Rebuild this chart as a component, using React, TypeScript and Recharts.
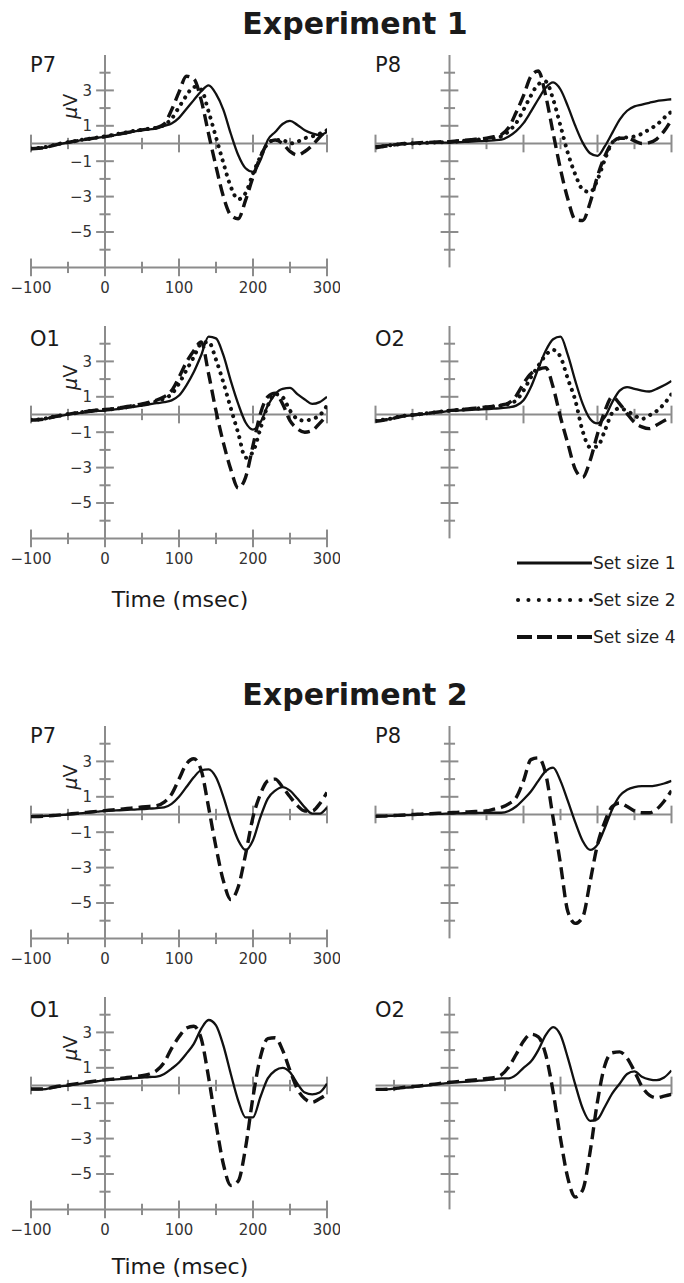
import React from 'react';
import { Line, LineChart, ReferenceLine, XAxis, YAxis } from 'recharts';

const FONT = '"DejaVu Sans", Verdana, sans-serif';
const INK = '#111111';
const AXIS_GRAY = '#8c8c8c';
const LABEL_INK = '#333333';

// time base, msec
const TIME_MS = [
  -100, -90, -80, -70, -60, -50, -40, -30, -20, -10, 0, 10, 20, 30, 40, 50, 60, 70, 80, 90, 100,
  110, 120, 130, 140, 150, 160, 170, 180, 190, 200, 210, 220, 230, 240, 250, 260, 270, 280, 290, 300,
];

// Experiment 1, µV (set size 1 / 2 / 4)
const E1_P7_SS1 = [-0.3, -0.28, -0.22, -0.12, -0.02, 0.05, 0.12, 0.2, 0.26, 0.32, 0.38, 0.45, 0.52, 0.6, 0.68, 0.75, 0.8, 0.85, 1.0, 1.13, 1.45, 1.95, 2.45, 2.95, 3.28, 2.8, 1.9, 0.55, -0.65, -1.4, -1.6, -0.95, 0.2, 0.65, 1.1, 1.28, 1.05, 0.75, 0.57, 0.47, 0.65];
const E1_P7_SS2 = [-0.28, -0.26, -0.2, -0.1, 0.0, 0.07, 0.14, 0.22, 0.28, 0.34, 0.4, 0.48, 0.56, 0.64, 0.72, 0.78, 0.84, 0.9, 1.05, 1.4, 2.05, 2.7, 3.2, 3.05, 1.8, 0.35, -1.1, -2.45, -3.15, -2.8, -1.7, -0.75, 0.0, 0.2, 0.2, 0.0, 0.1, 0.3, 0.4, 0.55, 0.75];
const E1_P7_SS4 = [-0.3, -0.27, -0.21, -0.11, -0.01, 0.06, 0.13, 0.21, 0.27, 0.33, 0.39, 0.46, 0.54, 0.62, 0.7, 0.77, 0.83, 0.9, 1.1, 1.9, 2.9, 3.8, 3.65, 2.45, 0.55, -1.3, -3.0, -4.05, -4.25, -3.2, -1.9, -0.75, 0.0, 0.2, 0.0, -0.45, -0.65, -0.45, -0.1, 0.35, 0.75];

const E1_P8_SS1 = [-0.15, -0.12, -0.08, -0.05, -0.02, 0.0, 0.02, 0.03, 0.04, 0.05, 0.05, 0.07, 0.09, 0.11, 0.13, 0.15, 0.18, 0.22, 0.4, 0.7, 1.15, 1.8, 2.5, 3.15, 3.45, 3.05, 2.1, 1.0, 0.05, -0.55, -0.7, -0.15, 0.6, 1.35, 1.85, 2.1, 2.2, 2.3, 2.4, 2.45, 2.5];
const E1_P8_SS2 = [-0.2, -0.15, -0.1, -0.06, -0.02, 0.0, 0.02, 0.04, 0.06, 0.07, 0.08, 0.12, 0.15, 0.2, 0.22, 0.25, 0.3, 0.4, 0.7, 1.15, 1.9, 2.7, 3.35, 3.5, 2.5, 1.0, -0.55, -1.75, -2.6, -2.75, -2.05, -0.9, 0.05, 0.3, 0.35, 0.4, 0.55, 0.8, 1.05, 1.45, 1.8];
const E1_P8_SS4 = [-0.25, -0.18, -0.12, -0.05, 0.0, 0.02, 0.05, 0.06, 0.08, 0.1, 0.1, 0.14, 0.18, 0.22, 0.26, 0.3, 0.38, 0.5, 0.9, 1.75, 2.7, 3.8, 4.1, 2.7, 0.6, -1.45, -3.15, -4.3, -4.35, -3.35, -1.85, -0.7, 0.05, 0.3, 0.3, 0.15, 0.0, 0.05, 0.25, 0.7, 1.35];

const E1_O1_SS1 = [-0.3, -0.3, -0.25, -0.15, -0.08, 0.0, 0.05, 0.1, 0.15, 0.2, 0.22, 0.27, 0.32, 0.38, 0.44, 0.5, 0.57, 0.64, 0.7, 0.8, 1.07, 1.65, 2.4, 3.35, 4.4, 4.3, 3.35, 1.9, 0.6, -0.45, -0.85, -0.45, 0.5, 1.15, 1.45, 1.5, 1.15, 0.85, 0.6, 0.7, 1.0];
const E1_O1_SS2 = [-0.3, -0.28, -0.22, -0.12, -0.05, 0.02, 0.08, 0.14, 0.2, 0.24, 0.26, 0.3, 0.36, 0.42, 0.48, 0.55, 0.65, 0.75, 0.9, 1.15, 1.75, 2.5, 3.25, 4.0, 4.1, 3.1, 1.8, 0.35, -1.05, -2.45, -2.1, -0.8, 0.5, 1.15, 0.98, 0.22, -0.25, -0.35, -0.25, -0.05, 0.5];
const E1_O1_SS4 = [-0.32, -0.3, -0.24, -0.14, -0.06, 0.02, 0.08, 0.14, 0.2, 0.25, 0.28, 0.32, 0.38, 0.45, 0.52, 0.6, 0.7, 0.82, 1.0, 1.35, 2.1, 2.95, 3.6, 4.1, 2.3, 0.2, -1.6, -3.1, -4.15, -3.55, -1.75, 0.05, 1.0, 1.2, 0.6, -0.35, -0.8, -1.0, -0.9, -0.5, -0.05];

const E1_O2_SS1 = [-0.35, -0.32, -0.25, -0.15, -0.08, -0.05, 0.0, 0.05, 0.1, 0.15, 0.2, 0.22, 0.24, 0.26, 0.28, 0.3, 0.33, 0.36, 0.4, 0.5, 0.8, 1.55, 2.6, 3.6, 4.25, 4.4, 3.35, 1.9, 0.6, -0.25, -0.5, -0.15, 0.7, 1.35, 1.55, 1.45, 1.35, 1.3, 1.45, 1.65, 1.9];
const E1_O2_SS2 = [-0.35, -0.3, -0.24, -0.14, -0.07, -0.03, 0.02, 0.07, 0.12, 0.17, 0.22, 0.25, 0.28, 0.31, 0.35, 0.4, 0.45, 0.5, 0.6, 0.8, 1.35, 2.1, 2.75, 3.35, 3.65, 3.25, 2.0, 0.8, -0.95, -1.85, -1.8, -0.9, 0.1, 0.35, 0.2, -0.05, -0.25, -0.05, 0.2, 0.6, 1.15];
const E1_O2_SS4 = [-0.38, -0.33, -0.26, -0.16, -0.08, -0.03, 0.02, 0.07, 0.12, 0.17, 0.22, 0.26, 0.3, 0.34, 0.38, 0.42, 0.47, 0.53, 0.65, 1.05, 1.75, 2.3, 2.55, 2.65, 1.55, -0.15, -1.65, -3.1, -3.55, -2.6, -1.1, 0.2, 1.0, 0.6, 0.05, -0.45, -0.7, -0.8, -0.6, -0.35, -0.15];

// Experiment 2, µV (set size 1 / 4)
const E2_P7_SS1 = [-0.1, -0.1, -0.08, -0.06, -0.03, 0.0, 0.04, 0.08, 0.12, 0.16, 0.2, 0.22, 0.24, 0.26, 0.28, 0.3, 0.33, 0.36, 0.4, 0.6, 1.0, 1.55, 2.1, 2.5, 2.55, 2.1, 1.0, -0.35, -1.45, -2.0, -1.45, -0.15, 0.9, 1.35, 1.55, 1.35, 0.9, 0.4, 0.05, 0.05, 0.4];
const E2_P7_SS4 = [-0.12, -0.11, -0.09, -0.06, -0.02, 0.02, 0.06, 0.1, 0.14, 0.18, 0.22, 0.26, 0.3, 0.34, 0.38, 0.42, 0.46, 0.5, 0.7, 1.15, 2.0, 2.85, 3.15, 2.5, 0.4, -1.85, -3.75, -4.8, -4.1, -2.25, -0.15, 1.15, 1.9, 2.0, 1.55, 1.0, 0.5, 0.2, 0.2, 0.6, 1.25];

const E2_P8_SS1 = [-0.1, -0.09, -0.08, -0.06, -0.04, -0.02, 0.0, 0.02, 0.03, 0.04, 0.05, 0.06, 0.07, 0.08, 0.09, 0.1, 0.1, 0.1, 0.2, 0.45, 0.85, 1.3, 1.9, 2.45, 2.65, 1.9, 0.75, -0.45, -1.5, -2.0, -1.7, -0.75, 0.3, 1.05, 1.4, 1.55, 1.6, 1.6, 1.65, 1.75, 1.9];
const E2_P8_SS4 = [-0.1, -0.09, -0.07, -0.05, -0.03, 0.0, 0.02, 0.04, 0.06, 0.08, 0.1, 0.12, 0.14, 0.16, 0.18, 0.2, 0.3, 0.4, 0.6, 0.95, 1.9, 3.1, 3.2, 2.3, -0.2, -2.8, -5.5, -6.15, -5.8, -3.8, -1.7, -0.4, 0.45, 0.65, 0.45, 0.2, 0.1, 0.1, 0.3, 0.75, 1.35];

const E2_O1_SS1 = [-0.2, -0.22, -0.2, -0.12, -0.05, 0.0, 0.06, 0.12, 0.18, 0.24, 0.3, 0.33, 0.36, 0.39, 0.42, 0.45, 0.48, 0.5, 0.65, 0.95, 1.3, 1.8, 2.35, 3.2, 3.7, 3.4, 2.25, 0.65, -0.85, -1.8, -1.8, -0.65, 0.4, 0.85, 1.0, 0.75, 0.1, -0.4, -0.5, -0.4, 0.1];
const E2_O1_SS4 = [-0.2, -0.2, -0.18, -0.1, -0.03, 0.03, 0.09, 0.15, 0.21, 0.27, 0.32, 0.36, 0.4, 0.45, 0.5, 0.55, 0.65, 0.85, 1.3, 2.1, 2.75, 3.25, 3.35, 2.65, 0.45, -2.15, -4.45, -5.65, -5.4, -3.5, -0.65, 1.6, 2.65, 2.7, 2.0, 0.85, -0.2, -0.75, -0.95, -0.75, -0.5];

const E2_O2_SS1 = [-0.2, -0.22, -0.2, -0.15, -0.12, -0.1, -0.05, 0.0, 0.05, 0.1, 0.15, 0.18, 0.21, 0.24, 0.27, 0.3, 0.35, 0.4, 0.4, 0.6, 1.0, 1.35, 2.0, 2.85, 3.3, 2.85, 1.55, 0.05, -1.3, -2.0, -1.9, -1.2, -0.45, 0.1, 0.65, 0.8, 0.5, 0.35, 0.3, 0.45, 0.85];
const E2_O2_SS4 = [-0.22, -0.22, -0.2, -0.15, -0.1, -0.06, -0.02, 0.03, 0.08, 0.13, 0.18, 0.22, 0.26, 0.3, 0.34, 0.4, 0.45, 0.6, 1.05, 1.75, 2.5, 2.9, 2.75, 1.75, -0.35, -3.0, -5.25, -6.3, -5.9, -3.75, -0.9, 1.15, 1.85, 1.9, 1.55, 0.8, -0.05, -0.55, -0.7, -0.6, -0.5];

// axes
const X_DOMAIN = [-100, 300];
const Y_DOMAIN = [-7, 5];
const X_TICKS = [-100, -50, 50, 100, 150, 200, 250, 300];
const X_BOTTOM_TICKS = [-100, -50, 0, 50, 100, 150, 200, 250, 300];
const X_MAJOR = [-100, 0, 100, 200, 300];
const X_ODD_TICKS = [-75, 75, 150, 300]; // Exp 2, O2 baseline
const Y_TICKS = [4, 3, 2, 1, -1, -2, -3, -4, -5, -6];
const Y_LABELS = [3, 1, -1, -3, -5];
const LEGEND = ['Set size 1', 'Set size 2', 'Set size 4'];

const Y_PX = 17.7; // px per µV
const ROW_ZERO = [143.3, 414.4, 814, 1085];

const fmt = (v: number) => (v < 0 ? '\u2212' + Math.abs(v) : String(v));

type Side = 'left' | 'right';
interface PanelProps {
  label: string;
  side: Side;
  zero: number;
  ss1: number[];
  ss2?: number[];
  ss4: number[];
  zeroTicks?: number[];
}

const tickLabel = (value: string, position: 'left' | 'bottom', offset: number) => ({
  value,
  position,
  offset,
  fill: LABEL_INK,
  fontSize: 15,
  fontFamily: FONT,
});

function Panel({ side, zero, ss1, ss2, ss4, zeroTicks = X_TICKS }: PanelProps) {
  const isLeft = side === 'left';
  const data = TIME_MS.map((t, i) => ({ t, ss1: ss1[i], ss2: ss2 ? ss2[i] : null, ss4: ss4[i] }));
  const top = zero - 5 * Y_PX - 10;
  const axis = { stroke: AXIS_GRAY, strokeWidth: 2, ifOverflow: 'visible' as const };

  return (
    <div style={{ position: 'absolute', left: isLeft ? 0 : 342, top }}>
      <LineChart
        width={isLeft ? 340 : 342}
        height={10 + 12 * Y_PX + 40}
        data={data}
        margin={{ top: 10, bottom: 40, left: isLeft ? 31 : 33.5, right: isLeft ? 13 : 12.5 }}
      >
        <XAxis dataKey="t" type="number" domain={X_DOMAIN} hide allowDataOverflow />
        <YAxis type="number" domain={Y_DOMAIN} hide allowDataOverflow />

        <ReferenceLine x={0} {...axis} />
        <ReferenceLine y={0} {...axis} />
        {isLeft && <ReferenceLine y={-7} {...axis} />}

        {Y_TICKS.map((v) => {
          const len = v % 2 !== 0 ? 12 : 7.5;
          return (
            <ReferenceLine
              key={`yt${v}`}
              segment={[{ x: -len, y: v }, { x: len, y: v }]}
              {...axis}
              label={isLeft && Y_LABELS.includes(v) ? tickLabel(fmt(v), 'left', 4) : undefined}
            />
          );
        })}

        {zeroTicks.map((t) => {
          const len = X_MAJOR.includes(t) || (t === 150 && zeroTicks !== X_TICKS) ? 0.5 : 0.32;
          return <ReferenceLine key={`xt${t}`} segment={[{ x: t, y: -len }, { x: t, y: len }]} {...axis} />;
        })}

        {isLeft &&
          X_BOTTOM_TICKS.map((t) => {
            const len = X_MAJOR.includes(t) ? 0.5 : 0.32;
            return (
              <ReferenceLine
                key={`xb${t}`}
                segment={[{ x: t, y: -7 - len }, { x: t, y: -7 + len }]}
                {...axis}
                label={X_MAJOR.includes(t) ? tickLabel(fmt(t), 'bottom', 6 + (0.5 - len) * Y_PX) : undefined}
              />
            );
          })}

        <Line type="monotone" dataKey="ss1" stroke={INK} strokeWidth={2.3} dot={false} isAnimationActive={false} />
        {ss2 && (
          <Line
            type="monotone"
            dataKey="ss2"
            stroke={INK}
            strokeWidth={4}
            strokeDasharray="0.1 7.3"
            strokeLinecap="round"
            dot={false}
            isAnimationActive={false}
          />
        )}
        <Line
          type="monotone"
          dataKey="ss4"
          stroke={INK}
          strokeWidth={3.4}
          strokeDasharray="12 6"
          dot={false}
          isAnimationActive={false}
        />
      </LineChart>
    </div>
  );
}

const PANELS: PanelProps[] = [
  { label: 'P7', side: 'left', zero: ROW_ZERO[0], ss1: E1_P7_SS1, ss2: E1_P7_SS2, ss4: E1_P7_SS4 },
  { label: 'P8', side: 'right', zero: ROW_ZERO[0], ss1: E1_P8_SS1, ss2: E1_P8_SS2, ss4: E1_P8_SS4 },
  { label: 'O1', side: 'left', zero: ROW_ZERO[1], ss1: E1_O1_SS1, ss2: E1_O1_SS2, ss4: E1_O1_SS4 },
  { label: 'O2', side: 'right', zero: ROW_ZERO[1], ss1: E1_O2_SS1, ss2: E1_O2_SS2, ss4: E1_O2_SS4 },
  { label: 'P7', side: 'left', zero: ROW_ZERO[2], ss1: E2_P7_SS1, ss4: E2_P7_SS4 },
  { label: 'P8', side: 'right', zero: ROW_ZERO[2], ss1: E2_P8_SS1, ss4: E2_P8_SS4 },
  { label: 'O1', side: 'left', zero: ROW_ZERO[3], ss1: E2_O1_SS1, ss4: E2_O1_SS4 },
  { label: 'O2', side: 'right', zero: ROW_ZERO[3], ss1: E2_O2_SS1, ss4: E2_O2_SS4, zeroTicks: X_ODD_TICKS },
];

export default function App() {
  return (
    <div style={{ position: 'absolute', left: 0, top: 0, width: 684, height: 1283, background: '#fff', fontFamily: FONT }}>
      {PANELS.map((p, i) => (
        <Panel key={i} {...p} />
      ))}

      <svg width={684} height={1283} style={{ position: 'absolute', left: 0, top: 0, pointerEvents: 'none' }} fontFamily={FONT}>
        <text x={355} y={34} textAnchor="middle" fontSize={30} fontWeight="bold" fill="#1a1a1a">
          Experiment 1
        </text>
        <text x={355} y={705} textAnchor="middle" fontSize={30} fontWeight="bold" fill="#1a1a1a">
          Experiment 2
        </text>

        {PANELS.map((p, i) => {
          const isLeft = p.side === 'left';
          const row2 = p.zero === ROW_ZERO[1] || p.zero === ROW_ZERO[3];
          return (
            <g key={i}>
              <text x={isLeft ? 30 : 375} y={p.zero - (row2 ? 68 : 71.5)} fontSize={21} fill="#1a1a1a">
                {p.label}
              </text>
              {isLeft && (
                <text
                  transform={`translate(70, ${p.zero - 37}) rotate(-90)`}
                  textAnchor="middle"
                  dominantBaseline="central"
                  fontSize={19}
                  fill="#222"
                >
                  <tspan fontStyle="italic">μ</tspan>V
                </text>
              )}
            </g>
          );
        })}

        <text x={180} y={607} textAnchor="middle" fontSize={22} fill="#1a1a1a">
          Time (msec)
        </text>
        <text x={180} y={1274} textAnchor="middle" fontSize={22} fill="#1a1a1a">
          Time (msec)
        </text>

        <g>
          <line x1={517} x2={592} y1={563} y2={563} stroke={INK} strokeWidth={3} />
          <line x1={518} x2={592} y1={600} y2={600} stroke={INK} strokeWidth={4} strokeDasharray="0.1 10.3" strokeLinecap="round" />
          <line x1={517} x2={592} y1={637} y2={637} stroke={INK} strokeWidth={4} strokeDasharray="15 5" />
          {LEGEND.map((name, i) => (
            <text key={name} x={593} y={563 + i * 37} dominantBaseline="central" fontSize={17} fill="#222">
              {name}
            </text>
          ))}
        </g>
      </svg>
    </div>
  );
}
